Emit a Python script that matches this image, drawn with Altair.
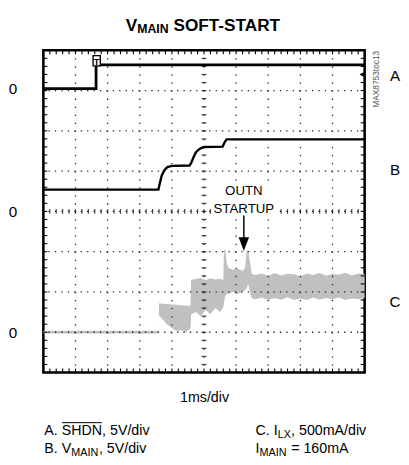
import altair as alt
import pandas as pd
import numpy as np

W, H = 327, 328
FONT = "Liberation Sans, Arial, Helvetica, sans-serif"

# ---- traces (x in divisions 0..10, y in divisions 0..8) ----
A_x = [0, 1.64, 1.64, 10]
A_y = [7.05, 7.05, 7.64, 7.64]

B_x = [0, 3.58, 3.62, 3.68, 3.76, 3.86, 4.0, 4.55, 4.6, 4.66, 4.75, 4.86, 5.0, 5.58, 5.63, 5.7, 10]
B_y = [4.54, 4.54, 4.68, 4.88, 5.02, 5.1, 5.13, 5.14, 5.2, 5.32, 5.47, 5.55, 5.6, 5.61, 5.7, 5.79, 5.79]

C_x = [0, 3.59, 3.6, 3.7, 3.85, 4.0, 4.15, 4.3, 4.45, 4.58, 4.6, 4.75, 4.9, 5.05, 5.2, 5.35, 5.5, 5.6,
       5.62, 5.66, 5.7, 5.75, 5.9, 6.05, 6.2, 6.28, 6.33, 6.38, 6.43, 6.48, 6.6, 6.8, 7.0, 7.2, 7.4,
       7.6, 7.8, 8.0, 8.2, 8.4, 8.6, 8.8, 9.0, 9.2, 9.4, 9.6, 9.8, 10]
C_lo = [0.97, 0.97, 1.42, 1.33, 1.2, 1.1, 1.03, 1.05, 1.0, 1.1, 1.45, 1.5, 1.4, 1.55, 1.45, 1.6, 1.5, 1.62,
        1.75, 1.9, 1.95, 1.95, 2.0, 1.95, 2.0, 2.05, 2.1, 2.2, 2.0, 1.85, 1.82, 1.86, 1.8, 1.85, 1.81,
        1.87, 1.8, 1.84, 1.8, 1.86, 1.81, 1.85, 1.82, 1.86, 1.8, 1.84, 1.82, 1.85]
C_hi = [1.04, 1.04, 1.72, 1.71, 1.7, 1.69, 1.68, 1.67, 1.66, 1.66, 2.3, 2.33, 2.35, 2.3, 2.34, 2.31, 2.33, 2.3,
        3.0, 3.09, 2.75, 2.6, 2.55, 2.58, 2.52, 2.6, 3.05, 3.0, 2.75, 2.45, 2.42, 2.46, 2.4, 2.47, 2.41,
        2.45, 2.44, 2.39, 2.46, 2.42, 2.47, 2.4, 2.45, 2.43, 2.48, 2.41, 2.46, 2.45]

zero_y = [7.03, 3.98, 0.98]
zero_lbl = ["0", "0", "0"]
trace_lbl = ["A", "B", "C"]
trace_lbl_y = [7.37, 5.02, 1.76]

# graticule
vgrid_x = list(range(1, 10))
hgrid_y = list(range(1, 8))
minor_x = [round(v, 2) for v in np.arange(0.2, 10, 0.2)]
minor_y = [round(v, 2) for v in np.arange(0.2, 8, 0.2)]

xs = alt.Scale(domain=[0, 10], nice=False, zero=False)
ys = alt.Scale(domain=[0, 8], nice=False, zero=False)


def X(f):
    return alt.X(f"{f}:Q", scale=xs, axis=None)


def Y(f):
    return alt.Y(f"{f}:Q", scale=ys, axis=None)


one = pd.DataFrame({"k": [0]})


def txt(text, x, y, size=14.5, bold=False, align="left", baseline="alphabetic", angle=None, color="black"):
    kw = dict(text=text, font=FONT, fontSize=size, fontWeight="bold" if bold else "normal",
              align=align, baseline=baseline, color=color)
    if angle is not None:
        kw["angle"] = angle
    return alt.Chart(one).mark_text(**kw).encode(x=alt.value(x), y=alt.value(y))


dfA = pd.DataFrame({"x": A_x, "y": A_y, "i": range(len(A_x))})
dfB = pd.DataFrame({"x": B_x, "y": B_y, "i": range(len(B_x))})
dfC = pd.DataFrame({"x": C_x, "lo": C_lo, "hi": C_hi})

c_band = alt.Chart(dfC).mark_area(color="#c0c0c0", opacity=1).encode(
    x=X("x"), y=Y("lo"), y2=alt.Y2("hi"))

vgrid = alt.Chart(pd.DataFrame({"x": vgrid_x})).mark_rule(
    color="#222222", strokeWidth=1.3, strokeDash=[1.3, 6.9]).encode(x=X("x"))
hgrid = alt.Chart(pd.DataFrame({"y": hgrid_y})).mark_rule(
    color="#222222", strokeWidth=1.3, strokeDash=[1.3, 5.24]).encode(y=Y("y"))

ctr_v = alt.Chart(pd.DataFrame({"x": [5] * len(minor_y), "y": minor_y})).mark_tick(
    orient="horizontal", size=5, thickness=1.2, color="black").encode(x=X("x"), y=Y("y"))
ctr_h = alt.Chart(pd.DataFrame({"x": minor_x, "y": [4] * len(minor_x)})).mark_tick(
    orient="vertical", size=5, thickness=1.2, color="black").encode(x=X("x"), y=Y("y"))

edge_b = alt.Chart(pd.DataFrame({"x": minor_x})).mark_rule(color="black", strokeWidth=1.1).encode(
    x=X("x"), y=alt.value(H), y2=alt.value(H - 4))
edge_t = alt.Chart(pd.DataFrame({"x": minor_x})).mark_rule(color="black", strokeWidth=1.1).encode(
    x=X("x"), y=alt.value(0), y2=alt.value(4))
edge_l = alt.Chart(pd.DataFrame({"y": minor_y})).mark_rule(color="black", strokeWidth=1.1).encode(
    y=Y("y"), x=alt.value(0), x2=alt.value(4))
edge_r = alt.Chart(pd.DataFrame({"y": minor_y})).mark_rule(color="black", strokeWidth=1.1).encode(
    y=Y("y"), x=alt.value(W), x2=alt.value(W - 4))

mask = alt.Chart(pd.DataFrame({"x": [5.25], "x2": [7.25], "y": [3.85], "y2": [4.72]})).mark_rect(
    color="white").encode(x=X("x"), x2=alt.X2("x2"), y=Y("y"), y2=alt.Y2("y2"))

lineA = alt.Chart(dfA).mark_line(color="black", strokeWidth=2.8).encode(
    x=X("x"), y=Y("y"), order="i:Q")
lineB = alt.Chart(dfB).mark_line(color="black", strokeWidth=2.4).encode(
    x=X("x"), y=Y("y"), order="i:Q")

trig_box = alt.Chart(pd.DataFrame({"x": [1.66], "y": [7.74]})).mark_point(
    shape="M-0.7,-1H0.7V1H-0.7Z", size=110, filled=True, fill="white", stroke="black",
    strokeWidth=1.4, opacity=1).encode(x=X("x"), y=Y("y"))
trig_t = alt.Chart(pd.DataFrame({"x": [1.66], "y": [7.74]})).mark_text(
    text="T", font=FONT, fontSize=9.5, fontWeight="bold", baseline="middle", dy=1).encode(
    x=X("x"), y=Y("y"))
gnd = alt.Chart(pd.DataFrame({"x": [9.93], "y": [7.4]})).mark_point(
    shape="triangle-left", size=45, filled=True, color="black", opacity=1).encode(x=X("x"), y=Y("y"))

arrow_shaft = alt.Chart(pd.DataFrame({"x": [6.24], "y": [3.9], "y2": [3.3]})).mark_rule(
    color="black", strokeWidth=1.5).encode(x=X("x"), y=Y("y"), y2=alt.Y2("y2"))
arrow_head = alt.Chart(pd.DataFrame({"x": [6.24], "y": [3.19]})).mark_point(
    shape="M-0.75,-1L0.75,-1L0,1Z", size=196, filled=True, color="black", opacity=1).encode(
    x=X("x"), y=Y("y"))

note = alt.Chart(pd.DataFrame({"x": [6.24, 6.24], "y": [4.51, 4.07], "t": ["OUTN", "STARTUP"]})).mark_text(
    font=FONT, fontSize=13.5, baseline="middle", align="center", color="black").encode(
    x=X("x"), y=Y("y"), text="t:N")

zeros = alt.Chart(pd.DataFrame({"y": zero_y, "t": zero_lbl})).mark_text(
    font=FONT, fontSize=15.5, baseline="middle", align="center").encode(
    x=alt.value(-31), y=Y("y"), text="t:N")
tlabels = alt.Chart(pd.DataFrame({"y": trace_lbl_y, "t": trace_lbl})).mark_text(
    font=FONT, fontSize=15.5, baseline="middle", align="center").encode(
    x=alt.value(358), y=Y("y"), text="t:N")

texts = [
    txt("V", 83.9, -20, size=17.5, bold=True),
    txt("MAIN", 95.6, -18, size=12.5, bold=True),
    txt("SOFT-START", 132.4, -20, size=17.5, bold=True),
    txt("MAX8753toc13", 339, 29.5, size=8.5, align="center", baseline="middle", angle=270, color="#555555"),
    txt("1ms/div", 164, 358, size=14.5, align="center"),
    # left legend
    txt("A. SHDN, 5V/div", 1, 392),
    txt("B. V", 1, 410),
    txt("MAIN", 28.4, 413, size=11),
    txt(", 5V/div", 56.5, 410),
    # right legend
    txt("C. I", 216, 392),
    txt("LX", 238.6, 395, size=11),
    txt(", 500mA/div", 252.1, 392),
    txt("I", 216, 410),
    txt("MAIN", 220, 413, size=11),
    txt("= 160mA", 252.2, 410),
]
overline = alt.Chart(one).mark_rule(color="black", strokeWidth=1).encode(
    x=alt.value(18.9), x2=alt.value(59.6), y=alt.value(379))

chart = alt.layer(
    c_band, vgrid, hgrid, ctr_v, ctr_h, edge_b, edge_t, edge_l, edge_r, mask,
    lineA, lineB, trig_box, trig_t, gnd, arrow_shaft, arrow_head, note, zeros, tlabels,
    overline, *texts
).properties(
    width=W, height=H,
    padding={"left": 36, "top": 39, "right": 37, "bottom": 86},
    autosize=alt.AutoSizeParams(type="none"),
).configure_view(stroke="black", strokeWidth=2.6)

chart.save("out.html", embed_options={"renderer": "svg", "actions": False})
